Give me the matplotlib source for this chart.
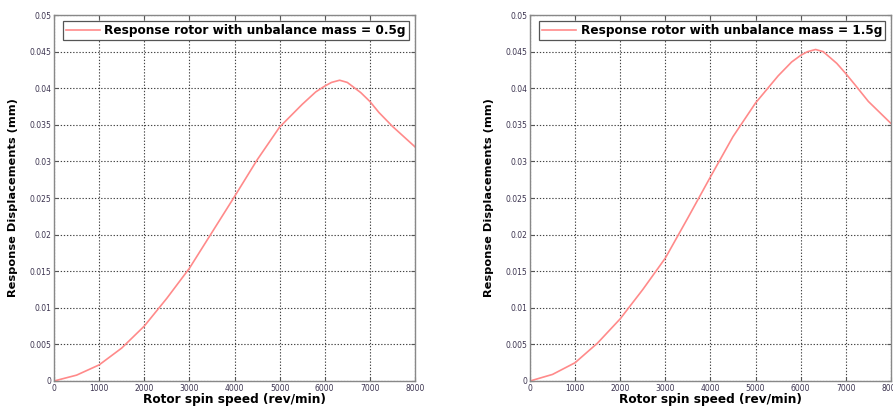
import numpy as np
import matplotlib
matplotlib.use("Agg")
import matplotlib.pyplot as plt

# Values
speed = [0, 500, 1000, 1500, 2000, 2500, 3000, 3500, 4000, 4500,
         5000, 5500, 5800, 6000, 6150, 6330, 6500, 6800, 7000, 7200, 7500, 8000]
resp_05g = [0, 0.0008, 0.0022, 0.0045, 0.0075, 0.0113, 0.0154, 0.0203, 0.0252, 0.0302,
            0.0347, 0.0378, 0.0395, 0.0403, 0.0408, 0.0411, 0.0408, 0.0394, 0.0382, 0.0367,
            0.0348, 0.0320]
resp_15g = [0, 0.0009, 0.0025, 0.0052, 0.0085, 0.0125, 0.0168, 0.0223, 0.0279, 0.0334,
            0.0380, 0.0417, 0.0436, 0.0445, 0.0450, 0.0453, 0.0450, 0.0434, 0.0420, 0.0405,
            0.0382, 0.0352]
labels = ['Response rotor with unbalance mass = 0.5g',
          'Response rotor with unbalance mass = 1.5g']

xticks = np.arange(0, 8001, 1000)
yticks = np.arange(0, 0.0501, 0.005)
ytick_labels = ['0', '0.005', '0.01', '0.015', '0.02', '0.025',
                '0.03', '0.035', '0.04', '0.045', '0.05']

fig = plt.figure(figsize=(8.93, 4.07), dpi=100)
ax1 = fig.add_axes([0.0605, 0.0639, 0.4042, 0.899])
ax2 = fig.add_axes([0.5935, 0.0639, 0.4042, 0.899])

tick_col = '#3c3450'

for ax, y, lab in [(ax1, resp_05g, labels[0]), (ax2, resp_15g, labels[1])]:
    ax.plot(speed, y, color='#ff8a8a', lw=1.2, label=lab)
    ax.set_xlim(0, 8000)
    ax.set_ylim(0, 0.05)
    ax.set_xticks(xticks)
    ax.set_yticks(yticks)
    ax.set_yticklabels(ytick_labels)
    ax.grid(True, color='#444444', linestyle=(0, (1.2, 1.6)), lw=0.8)
    ax.tick_params(direction='in', top=True, right=True, labelsize=5.5,
                   colors='#555555', labelcolor=tick_col, length=3, pad=2)
    for s in ax.spines.values():
        s.set_color('#888888')
        s.set_linewidth(1.0)
    ax.set_xlabel('Rotor spin speed (rev/min)', fontsize=8.7, fontweight='bold', labelpad=0)
    ax.set_ylabel('Response Displacements (mm)', fontsize=8.2, fontweight='bold', labelpad=8)
    leg = ax.legend(loc='upper right', prop={'weight': 'bold', 'size': 8.7},
                    fancybox=False, edgecolor='#555555', framealpha=1,
                    borderpad=0.25, handlelength=2.8, handletextpad=0.4,
                    borderaxespad=0.5)
    leg.get_frame().set_linewidth(0.9)

fig.savefig('out.png', dpi=100)
